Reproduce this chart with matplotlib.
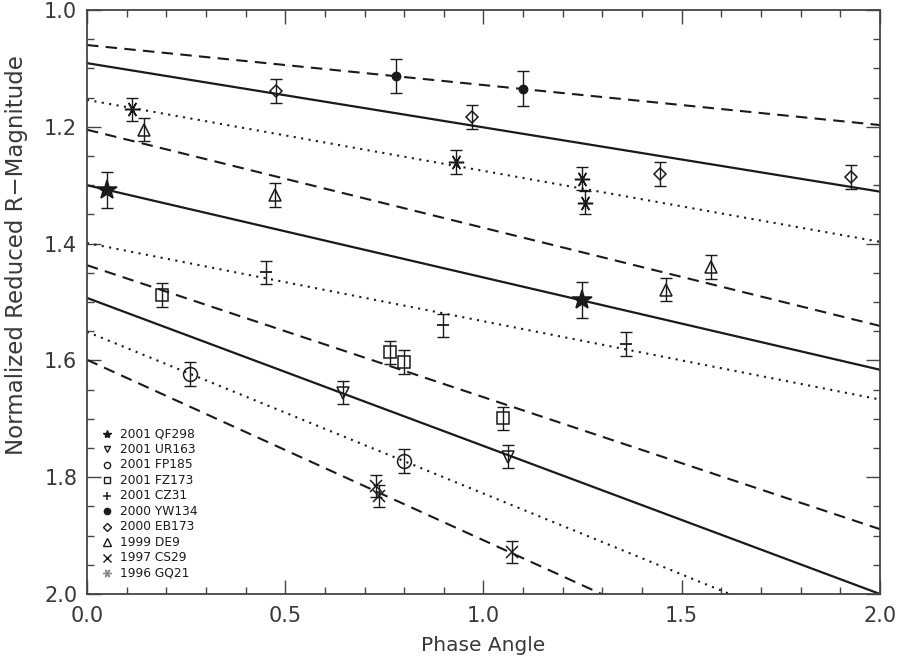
import numpy as np
import matplotlib
matplotlib.use('Agg')
import matplotlib.pyplot as plt
from matplotlib.ticker import MultipleLocator, FormatStrFormatter

# ---------------- data ----------------
names = ['2001 QF298', '2001 UR163', '2001 FP185', '2001 FZ173', '2001 CZ31',
         '2000 YW134', '2000 EB173', '1999 DE9', '1997 CS29', '1996 GQ21']

qf298_x = [0.050, 1.248]
qf298_y = [1.308, 1.497]
qf298_e = [0.031, 0.031]

ur163_x = [0.646, 1.062]
ur163_y = [1.655, 1.765]
ur163_e = [0.020, 0.020]

fp185_x = [0.260, 0.800]
fp185_y = [1.623, 1.772]
fp185_e = [0.021, 0.021]

fz173_x = [0.189, 0.764, 0.800, 1.049]
fz173_y = [1.488, 1.586, 1.603, 1.699]
fz173_e = [0.020, 0.020, 0.020, 0.020]

cz31_x = [0.451, 0.898, 1.359]
cz31_y = [1.449, 1.540, 1.572]
cz31_e = [0.020, 0.020, 0.020]

yw134_x = [0.779, 1.100]
yw134_y = [1.113, 1.135]
yw134_e = [0.029, 0.030]

eb173_x = [0.477, 0.971, 1.445, 1.927]
eb173_y = [1.139, 1.183, 1.281, 1.286]
eb173_e = [0.020, 0.020, 0.020, 0.020]

de9_x = [0.144, 0.474, 1.460, 1.574]
de9_y = [1.205, 1.317, 1.479, 1.440]
de9_e = [0.020, 0.020, 0.020, 0.020]

cs29_x = [0.728, 0.736, 1.072]
cs29_y = [1.815, 1.832, 1.928]
cs29_e = [0.019, 0.019, 0.019]

gq21_x = [0.113, 0.930, 1.248, 1.256]
gq21_y = [1.170, 1.260, 1.289, 1.330]
gq21_e = [0.020, 0.020, 0.020, 0.020]

# linear phase-curve fits: intercept (mag at 0 deg) and slope (mag/deg)
fit_intercepts = [1.300, 1.493, 1.551, 1.437, 1.399, 1.060, 1.091, 1.205, 1.599, 1.154]
fit_slopes     = [0.158, 0.2535, 0.277, 0.226, 0.134, 0.0685, 0.110, 0.168, 0.309, 0.1215]

# ---------------- styles ----------------
series = [
    (qf298_x, qf298_y, qf298_e),
    (ur163_x, ur163_y, ur163_e),
    (fp185_x, fp185_y, fp185_e),
    (fz173_x, fz173_y, fz173_e),
    (cz31_x, cz31_y, cz31_e),
    (yw134_x, yw134_y, yw134_e),
    (eb173_x, eb173_y, eb173_e),
    (de9_x, de9_y, de9_e),
    (cs29_x, cs29_y, cs29_e),
    (gq21_x, gq21_y, gq21_e),
]
# marker, size, filled
mstyles = [('*', 15, True), ('v', 8, False), ('o', 10, False), ('s', 8, False),
           (None, 0, False), ('o', 6, True), ('D', 6.5, False), ('^', 8, False),
           ('x', 9, False), ((6, 2, 90), 11, False)]
lstyles = ['-', '-', ':', '--', ':', '--', '-', '--', '--', ':']

ink = '#1a1a1a'
txt = '#383838'

fig = plt.figure(figsize=(8.98, 6.64), dpi=100)
ax = fig.add_axes([87/898, 1 - 594/664, (880-87)/898, (594-10)/664])

xs = np.array([0.0, 2.0])
for b, m, ls in zip(fit_intercepts, fit_slopes, lstyles):
    if ls == '--':
        ax.plot(xs, b + m * xs, color=ink, lw=1.5, ls=(0, (5.5, 3.5)))
    elif ls == ':':
        ax.plot(xs, b + m * xs, color=ink, lw=1.5, ls=(0, (1, 2.6)))
    else:
        ax.plot(xs, b + m * xs, color=ink, lw=1.6, ls='-')

for (x, y, e), (mk, ms, filled) in zip(series, mstyles):
    ax.errorbar(x, y, yerr=e, fmt='none', ecolor=ink, elinewidth=1.0,
                capsize=4.5, capthick=1.0, zorder=3)
    if mk is None:
        ax.plot(x, y, ls='none', marker='_', ms=9, mew=1.3, color=ink, zorder=4)
        continue
    ax.plot(x, y, ls='none', marker=mk, ms=ms,
            mfc=ink if filled else 'none', mec=ink, mew=1.1, zorder=4)

ax.set_xlim(0, 2.0)
ax.set_ylim(2.0, 1.0)
ax.xaxis.set_major_locator(MultipleLocator(0.5))
ax.xaxis.set_minor_locator(MultipleLocator(0.1))
ax.yaxis.set_major_locator(MultipleLocator(0.2))
ax.yaxis.set_minor_locator(MultipleLocator(0.05))
ax.xaxis.set_major_formatter(FormatStrFormatter('%.1f'))
ax.yaxis.set_major_formatter(FormatStrFormatter('%.1f'))
ax.tick_params(which='both', direction='in', top=True, right=True,
               color='#444444', width=1.0, labelsize=15, labelcolor=txt)
ax.tick_params(which='major', length=10, pad=7)
ax.tick_params(which='minor', length=5)
ax.tick_params(axis='x', which='major', pad=9)
for s in ax.spines.values():
    s.set_color('#444444')
    s.set_linewidth(1.3)

ax.set_xlabel('Phase Angle', fontsize=14.5, color=txt)
ax.xaxis.set_label_coords(0.5, -0.072)
ax.set_ylabel('Normalized Reduced R\u2212Magnitude', fontsize=16.5, color=txt)
ax.yaxis.set_label_coords(-0.074, 0.58)

# legend (symbols only, no frame)
leg_y0 = 0.274
leg_dy = 0.02644
leg_ms = [6, 5, 4.5, 5, 6, 4.5, 4.5, 5.5, 6, 6]
for i, (name, (mk, ms, filled)) in enumerate(zip(names, mstyles)):
    yy = leg_y0 - i * leg_dy
    if mk is None:
        ax.plot([0.0252], [yy], marker='+', ms=6, mew=1.1, color=ink,
                transform=ax.transAxes, clip_on=False)
    else:
        col = '#888888' if i == 9 else ink
        ax.plot([0.0252], [yy], marker=mk, ms=leg_ms[i], ls='none',
                mfc=col if filled else 'none', mec=col, mew=1.0,
                transform=ax.transAxes, clip_on=False)
    ax.text(0.0416, yy, name, transform=ax.transAxes, fontsize=8.8,
            va='center', ha='left', color=ink)

fig.savefig('out.png', dpi=100)
